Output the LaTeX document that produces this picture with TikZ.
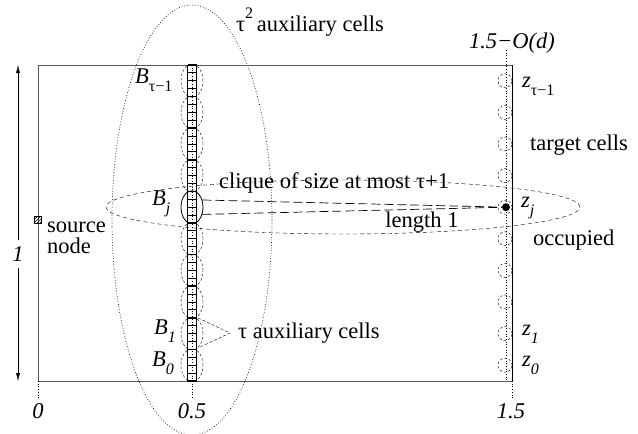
\documentclass[tikz,border=0pt]{standalone}
\usepackage{fontspec}
\setmainfont{Liberation Serif}
\usetikzlibrary{shapes.geometric,arrows.meta,patterns}
\newcommand\mysbs[1]{\raisebox{-0.35em}{\fontsize{16}{16}\selectfont #1}}
\tikzset{
  lbl/.style={font=\fontsize{22.5}{21}\selectfont, inner sep=0pt},
  ilbl/.style={font=\fontsize{22.5}{21}\selectfont\itshape, inner sep=0pt},
  grp/.style={draw, dash pattern=on 2.5pt off 2pt, ellipse, minimum width=22pt, minimum height=33pt, inner sep=0pt},
  tgt/.style={draw, dash pattern=on 2.5pt off 2pt, circle, minimum size=14pt, inner sep=0pt},
  guide/.style={dotted, black, line width=0.7pt},
  cell/.style={draw, line width=0.9pt},
}
\begin{document}
\begin{tikzpicture}[x=1pt,y=-1pt]
\useasboundingbox (0,0) rectangle (638,434);
% big dotted ellipse
\node[draw, dotted, line width=0.7pt, ellipse, minimum width=160pt, minimum height=430pt, inner sep=0pt] (aux2) at (192,220) {};
% field rectangle
\draw[gray!70!black, line width=0.8pt] (38,65) rectangle (512,381);
\draw[line width=1pt] (512,65) -- (512,381);
% guide lines
\draw[guide] (506,50) -- (506,381);
\draw[guide] (192,65) -- (192,398);
\draw[guide] (38,381) -- (38,398);
\draw[guide] (512,381) -- (512,398);
% column of cells
\foreach \i in {0,...,39}{
  \draw[cell] (187.5,{65+7.9*\i}) rectangle (196.5,{65+7.9*(\i+1)});
}
\foreach \i in {0,...,10}{
  \draw[line width=1.6pt] (187.5,{65+31.6*\i}) -- (196.5,{65+31.6*\i});
}
% group ellipses and target circles
\foreach \k/\nm in {0/g9,1/g8,2/g7,3/g6,5/g4,6/g3,7/g2,8/g1,9/g0}{
  \node[grp] (\nm) at (192,{80.8+31.6*\k}) {};
}
\node[draw, ellipse, line width=0.8pt, minimum width=22pt, minimum height=33pt, inner sep=0pt] (Bj) at (192,207.2) {};
\foreach \k/\nm in {0/t9,1/t8,2/t7,3/t6,4/tj,5/t4,6/t3,7/t2,8/t1,9/t0}{
  \node[tgt] (\nm) at (505,{80.8+31.6*\k}) {};
}
\node[circle, fill, minimum size=8pt, inner sep=0pt] (zdot) at (506,207.2) {};
% clique ellipse
\node[draw, dash pattern=on 4pt off 3pt, ellipse, minimum width=474pt, minimum height=54pt, inner sep=0pt] (clq) at (343,207) {};
% length-1 lines
\draw[dash pattern=on 9pt off 4pt, line width=0.7pt] (Bj.35) -- (zdot);
\draw[dash pattern=on 9pt off 4pt, line width=0.7pt] (Bj.-35) -- (zdot);
% tau auxiliary pointer
\coordinate (tp) at (230,333);
\coordinate (ta) at (198,318);
\coordinate (tb) at (198,348);
\draw[dash pattern=on 3pt off 2pt] (ta) -- (tp) -- (tb);
% source node
\node[draw, pattern=north east lines, minimum size=7pt, inner sep=0pt] (src) at (38,220) {};
% height arrow
\coordinate (atop) at (18,65);
\coordinate (abot) at (18,381);
\node[ilbl] (one) at (18,254) {1};
\draw[-{Latex[length=8pt,width=4pt]}] (one.north) ++(0,-6) -- (atop);
\draw[-{Latex[length=8pt,width=4pt]}] (one.south) ++(0,6) -- (abot);
% texts
\node[lbl, anchor=west] (t2lab) at (236,22) {τ\raisebox{0.55em}{\fontsize{16}{16}\selectfont 2}\,auxiliary cells};
\node[ilbl] (oddlab) at (512,43) {1.5−O(d)};
\node[lbl, anchor=west] (tclab) at (530,145) {target cells};
\node[lbl, anchor=west] (cqlab) at (219,183) {clique of size at most τ+1};
\node[lbl] (lenlab) at (422,222) {length 1};
\node[lbl, anchor=west] (occlab) at (533,240) {occupied};
\node[lbl, anchor=west, align=left] (srclab) at (47,238) {source\\node};
\node[lbl, anchor=west] (taulab) at (238,333) {τ auxiliary cells};
\node[ilbl] (x0) at (38,411) {0};
\node[ilbl] (x05) at (192,411) {0.5};
\node[ilbl] (x15) at (511,411) {1.5};
\node[ilbl, anchor=west] (Btl) at (135,80) {B\mysbs{\upshape τ−1}};
\node[ilbl, anchor=west] (Bjl) at (152,204) {B\mysbs{j}};
\node[ilbl, anchor=west] (B1l) at (154,331) {B\mysbs{1}};
\node[ilbl, anchor=west] (B0l) at (152,363) {B\mysbs{0}};
\node[ilbl, anchor=west] (ztl) at (522,86) {z\mysbs{\upshape τ−1}};
\node[ilbl, anchor=west] (zjl) at (521,208) {z\mysbs{j}};
\node[ilbl, anchor=west] (z1l) at (522,334) {z\mysbs{1}};
\node[ilbl, anchor=west] (z0l) at (522,365) {z\mysbs{0}};
\end{tikzpicture}
\end{document}
